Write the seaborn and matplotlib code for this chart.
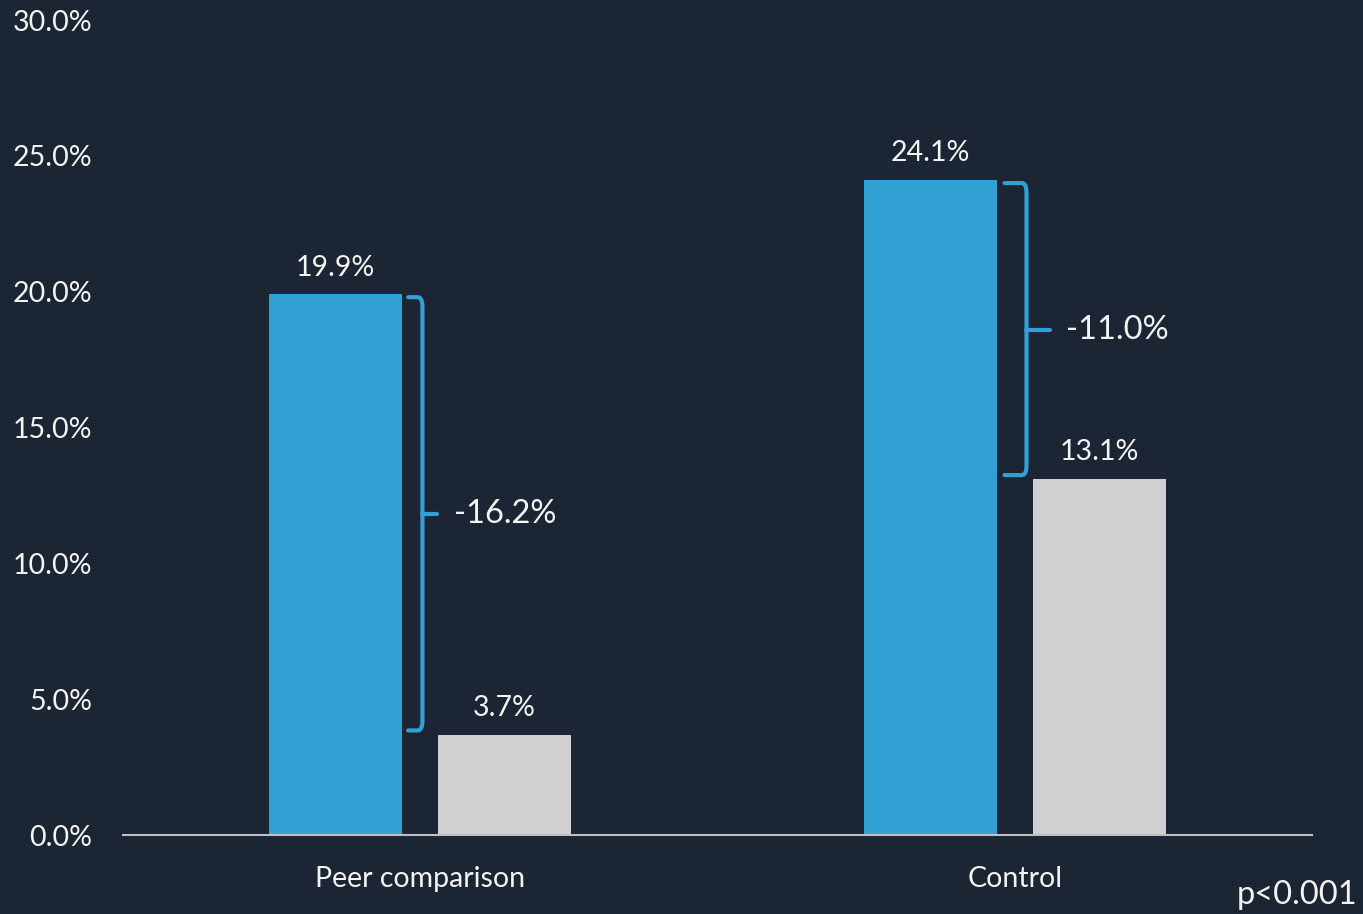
import matplotlib
matplotlib.use("Agg")
import matplotlib.pyplot as plt
from matplotlib.path import Path
from matplotlib.patches import PathPatch
from matplotlib.ticker import PercentFormatter, MultipleLocator
import seaborn as sns
import pandas as pd

# ---- data ----
groups = ["Peer comparison", "Control"]
periods = ["Baseline", "Follow-up"]
baseline_values = [19.9, 24.1]
followup_values = [3.7, 13.1]
diff_labels = ["-16.2%", "-11.0%"]
p_label = "p<0.001"

BG = "#1b2533"
BLUE = "#31a0d2"
GREY = "#d0d0d0"
TXT = "#f4f4f4"

df = pd.DataFrame({
    "group": groups * 2,
    "period": [periods[0]] * 2 + [periods[1]] * 2,
    "value": baseline_values + followup_values,
})

sns.set_theme(style="white")
plt.rcParams["font.family"] = ["Lato", "DejaVu Sans"]

fig = plt.figure(figsize=(13.63, 9.14), dpi=100, facecolor=BG)
ax = fig.add_axes([0.0902, 0.0864, 0.8724, 0.8916])
ax.set_facecolor(BG)

sns.barplot(data=df, x="group", y="value", hue="period", order=groups,
            hue_order=periods, palette=[BLUE, GREY], width=0.568, gap=0.213,
            saturation=1, legend=False, ax=ax, linewidth=0)

ax.set_xlim(-0.5, 1.5)
ax.set_ylim(0, 30)
ax.yaxis.set_major_locator(MultipleLocator(5))
ax.yaxis.set_major_formatter(PercentFormatter(decimals=1))
ax.set_xlabel("")
ax.set_ylabel("")
for s in ["left", "right", "top"]:
    ax.spines[s].set_visible(False)
ax.spines["bottom"].set_color("#bfbfbf")
ax.spines["bottom"].set_linewidth(1.5)
ax.tick_params(axis="y", length=0, pad=22, labelsize=20.5, labelcolor=TXT)
ax.tick_params(axis="x", length=0, pad=22, labelsize=20.5, labelcolor=TXT)
ax.grid(False)

# value labels
for cont in ax.containers:
    ax.bar_label(cont, labels=[f"{v:.1f}%" for v in cont.datavalues],
                 padding=10, fontsize=20.5, color=TXT)

# brackets
blue_bars = list(ax.containers[0])
grey_bars = list(ax.containers[1])
offsets = [(0.010, 0.034, 0.059), (0.013, 0.050, 0.089)]
for i, (bb, gb) in enumerate(zip(blue_bars, grey_bars)):
    xr = bb.get_x() + bb.get_width()
    o0, ov, ot = offsets[i]
    x0, xv, xt = xr + o0, xr + ov, xr + ot
    ytop = bb.get_height() - 0.1
    ybot = gb.get_height() + 0.15
    ymid = (bb.get_height() + gb.get_height()) / 2
    rx, ry = 0.008, 0.35
    verts = [(x0, ytop), (xv - rx, ytop), (xv, ytop), (xv, ytop - ry),
             (xv, ybot + ry), (xv, ybot), (xv - rx, ybot), (x0, ybot)]
    codes = [Path.MOVETO, Path.LINETO, Path.CURVE3, Path.CURVE3,
             Path.LINETO, Path.CURVE3, Path.CURVE3, Path.LINETO]
    ax.add_patch(PathPatch(Path(verts, codes), fill=False, edgecolor=BLUE,
                           linewidth=3, capstyle="round", joinstyle="round"))
    ax.plot([xv, xt], [ymid, ymid], color=BLUE, linewidth=3,
            solid_capstyle="round")
    ax.annotate(diff_labels[i], (xt, ymid), xytext=(12, 0),
                textcoords="offset points", ha="left", va="center",
                fontsize=23.5, color=TXT)

fig.text(0.996, 0.004, p_label, ha="right", va="bottom", fontsize=23.5,
         color=TXT)

fig.savefig("out.png", dpi=100, facecolor=BG)
